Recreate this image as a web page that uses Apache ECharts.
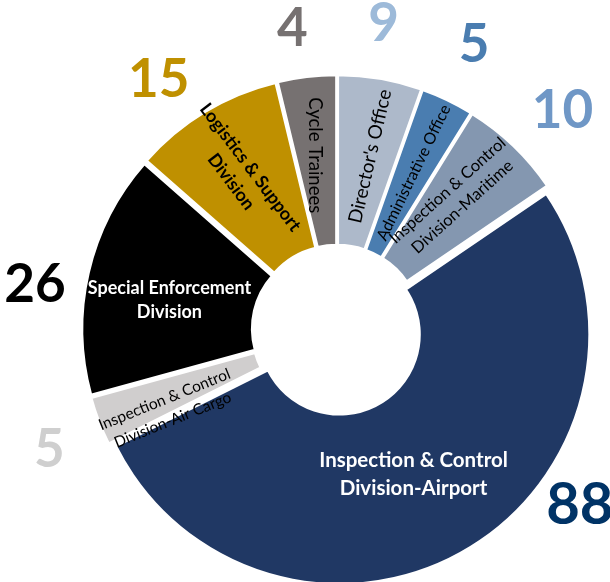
<!DOCTYPE html>
<html><head><meta charset="utf-8">
<script src="https://cdn.jsdelivr.net/npm/echarts@6/dist/echarts.min.js"></script>
<style>html,body{margin:0;padding:0;background:#fff}#chart{width:610px;height:582px}</style>
</head><body><div id="chart"></div>
<script>
// ---- data ----
const categories = [
  "Director's Office",
  "Administrative Office",
  "Inspection & Control\nDivision-Maritime",
  "Inspection & Control\nDivision-Airport",
  "Inspection & Control\nDivision-Air Cargo",
  "Special Enforcement\nDivision",
  "Logistics & Support\nDivision",
  "Cycle Trainees"
];
// counts printed beside the ring
const values = [9, 5, 10, 88, 5, 26, 15, 4];
// slice sizes as drawn in the picture (degrees of arc)
const sliceShares = [19.5, 12.3, 24.0, 187.6, 11.3, 56.6, 35.1, 13.6];

// ---- styling ----
const sliceColors  = ['#adb9ca', '#4a7db0', '#8497b0', '#203864', '#d0cece', '#000000', '#bf9000', '#767171'];
const numberColors = ['#9dbad9', '#4a7db0', '#6f97c6', '#003366', '#cfcfcf', '#000000', '#bf9000', '#767171'];
const numberSizes  = [53, 53, 53, 58, 53, 53, 53, 53];
const nameColors   = ['#000', '#000', '#000', '#fff', '#000', '#fff', '#000', '#000'];
const nameWeights  = ['normal', 'normal', 'normal', 'bold', 'normal', 'bold', 'bold', 'normal'];
const nameSizes    = [19, 16, 16.5, 20.5, 15.5, 18, 18, 18.5];
const nameLineH    = [22, 20, 22, 28, 22, 24, 24, 22];
const nameRotate   = [77, 64, 42, 0, 22, 0, -53, -90];
const nameShift    = [[4, 3], [2, 1], [3, -6], [-11, -5], [-13, 14], [1, 9], [-10, 1], [-3, 2]];
const numberShift  = [[-6, -1], [3, -6], [11, 5], [86, -92], [2, 9], [0, 25], [-18, 15], [-8, 7]];

const FONT = 'Lato, "Open Sans", sans-serif';
const CENTER = [337, 330];

const chart = echarts.init(document.getElementById('chart'), null, { renderer: 'canvas' });

const ringData = sliceShares.map((v, i) => ({
  name: categories[i],
  value: v,
  count: values[i],
  selected: true,
  itemStyle: { color: sliceColors[i] },
  label: {
    color: nameColors[i],
    fontWeight: nameWeights[i],
    fontSize: nameSizes[i],
    lineHeight: nameLineH[i],
    rotate: nameRotate[i]
  }
}));

const numberData = sliceShares.map((v, i) => ({
  name: categories[i],
  value: v,
  label: { color: numberColors[i], fontSize: numberSizes[i], formatter: String(values[i]) }
}));

chart.setOption({
  animation: false,
  backgroundColor: '#ffffff',
  series: [
    {
      type: 'pie',
      center: CENTER,
      radius: [80, 250],
      startAngle: 90,
      clockwise: true,
      selectedMode: 'multiple',
      selectedOffset: 5,
      avoidLabelOverlap: false,
      emphasis: { disabled: true },
      itemStyle: { borderColor: '#ffffff', borderWidth: 2.5 },
      select: { itemStyle: { borderColor: '#ffffff', borderWidth: 2.5 } },
      label: {
        show: true,
        position: 'inside',
        formatter: '{b}',
        fontFamily: FONT,
        align: 'center'
      },
      labelLine: { show: false },
      labelLayout: function (p) {
        const s = nameShift[p.dataIndex];
        return { dx: s[0], dy: s[1] };
      },
      data: ringData
    },
    {
      type: 'pie',
      center: CENTER,
      radius: [282, 332],
      startAngle: 90,
      clockwise: true,
      silent: true,
      avoidLabelOverlap: false,
      itemStyle: { color: 'rgba(0,0,0,0)' },
      label: {
        show: true,
        position: 'inside',
        fontFamily: FONT,
        fontWeight: 'bold'
      },
      labelLine: { show: false },
      labelLayout: function (p) {
        const s = numberShift[p.dataIndex];
        return { dx: s[0], dy: s[1] };
      },
      data: numberData
    }
  ]
});
</script>
</body></html>
